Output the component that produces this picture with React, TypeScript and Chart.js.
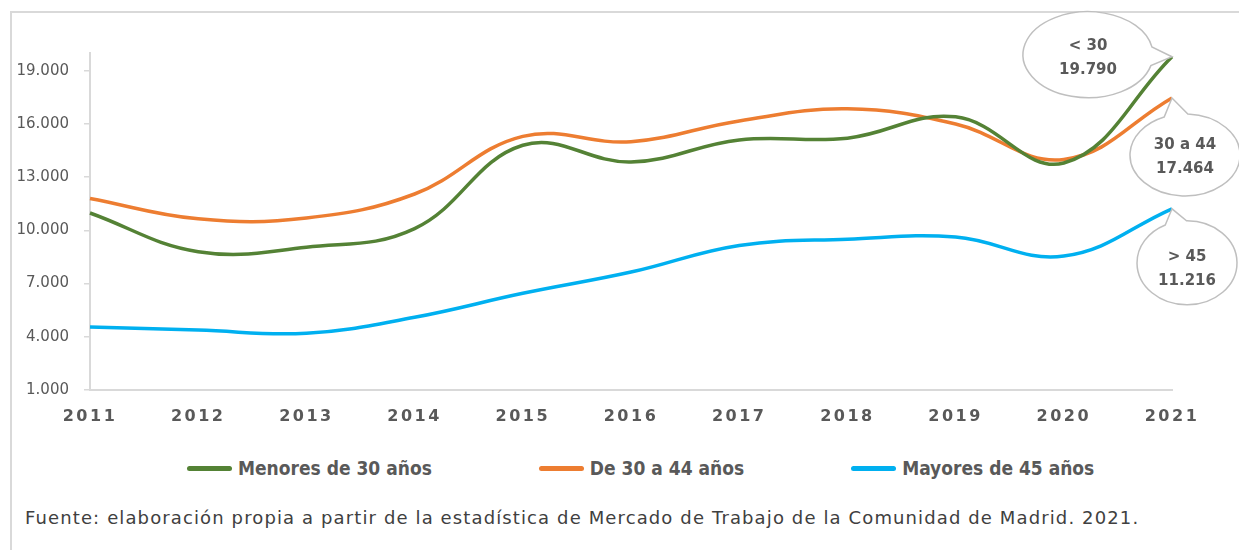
import { useEffect, useRef } from "react";
import { Chart, registerables } from "chart.js";

Chart.register(...registerables);

const years = ["2011", "2012", "2013", "2014", "2015", "2016", "2017", "2018", "2019", "2020", "2021"];
const menores30 = [10980, 8800, 9050, 10100, 14800, 13860, 15100, 15200, 16400, 13800, 19790];
const de30a44 = [11800, 10650, 10700, 12050, 15300, 15000, 16170, 16850, 16000, 14000, 17464];
const mayores45 = [4550, 4380, 4200, 5100, 6450, 7650, 9150, 9500, 9620, 8550, 11216];
const seriesNames = ["Menores de 30 años", "De 30 a 44 años", "Mayores de 45 años"];
const seriesColors = ["#548235", "#ED7D31", "#00B0F0"];
const calloutLabels = ["< 30", "30 a 44", "> 45"];
const yTickValues = [1000, 4000, 7000, 10000, 13000, 16000, 19000];
const yMin = 1000;
const yMax = 20000;
const sourceNote =
  "Fuente: elaboración propia a partir de la estadística de Mercado de Trabajo de la Comunidad de Madrid. 2021.";

const bubbleShapes = [
  { dx: -84, dy: -2, rx: 65, ry: 43, textDy: 3 },
  { dx: 13, dy: 57, rx: 55, ry: 41, textDy: 2 },
  { dx: 15, dy: 54, rx: 50, ry: 42, textDy: 6 },
];

const fmt = (v: number) => String(Math.round(v)).replace(/\B(?=(\d{3})+(?!\d))/g, ".");

const calloutPlugin = {
  id: "callouts",
  afterDatasetsDraw(chart: any) {
    const ctx = chart.ctx as CanvasRenderingContext2D;
    chart.data.datasets.forEach((ds: any, i: number) => {
      const meta = chart.getDatasetMeta(i);
      const pt = meta.data[meta.data.length - 1];
      const px = pt.x;
      const py = pt.y;
      const b = bubbleShapes[i];
      const cx = px + b.dx;
      const cy = py + b.dy;
      const ang = Math.atan2((py - cy) / b.ry, (px - cx) / b.rx);
      const d = 0.22;
      ctx.save();
      ctx.beginPath();
      ctx.ellipse(cx, cy, b.rx, b.ry, 0, ang + d, ang - d + Math.PI * 2);
      ctx.lineTo(px, py);
      ctx.closePath();
      ctx.fillStyle = "#ffffff";
      ctx.fill();
      ctx.strokeStyle = "#bfbfbf";
      ctx.lineWidth = 1.5;
      ctx.stroke();
      ctx.fillStyle = "#595959";
      ctx.font = 'bold 15px "DejaVu Sans", sans-serif';
      ctx.textAlign = "center";
      ctx.textBaseline = "middle";
      ctx.fillText(calloutLabels[i], cx, cy + b.textDy - 12);
      ctx.fillText(fmt(ds.data[ds.data.length - 1]), cx, cy + b.textDy + 12);
      ctx.restore();
    });
  },
};

const spacingPlugin = {
  id: "xLetterSpacing",
  beforeDraw(chart: any) {
    const xs = chart.scales.x;
    if (xs && !xs.__spaced) {
      const orig = xs.drawLabels.bind(xs);
      xs.drawLabels = (area: any) => {
        const c = chart.ctx;
        c.save();
        c.letterSpacing = "2.5px";
        orig(area);
        c.restore();
      };
      xs.__spaced = true;
    }
  },
};

export default function App() {
  const ref = useRef<HTMLCanvasElement>(null);

  useEffect(() => {
    const seriesData = [menores30, de30a44, mayores45];
    const chart = new Chart(ref.current as HTMLCanvasElement, {
      type: "line",
      data: {
        labels: years,
        datasets: seriesData.map((d, i) => ({
          label: seriesNames[i],
          data: d,
          borderColor: seriesColors[i],
          backgroundColor: seriesColors[i],
          borderWidth: 3.5,
          pointRadius: 0,
          tension: 0.4,
          fill: false,
          clip: false as any,
        })),
      },
      options: {
        responsive: false,
        animation: false,
        layout: { padding: { top: 53, right: 67, left: 0, bottom: 0 } },
        plugins: {
          legend: { display: false },
          tooltip: { enabled: false },
        },
        scales: {
          x: {
            afterFit: (s: any) => {
              s.height = 40;
            },
            grid: { display: false, drawTicks: false, drawOnChartArea: false },
            border: { display: true, color: "#d9d9d9", width: 2 },
            ticks: {
              color: "#595959",
              font: { family: '"DejaVu Sans", sans-serif', size: 16, weight: "bold" },
              padding: 17,
              maxRotation: 0,
              autoSkip: false,
            },
          },
          y: {
            min: yMin,
            max: yMax,
            afterFit: (s: any) => {
              s.width = 90;
            },
            afterBuildTicks: (s: any) => {
              s.ticks = yTickValues.map((v) => ({ value: v }));
            },
            grid: {
              display: true,
              drawOnChartArea: false,
              drawTicks: true,
              tickLength: 6,
              color: "#d9d9d9",
              lineWidth: 1.5,
            },
            border: { display: true, color: "#d9d9d9", width: 2 },
            ticks: {
              color: "#595959",
              font: { family: '"DejaVu Sans", sans-serif', size: 15 },
              padding: 15,
              callback: (v: any) => fmt(Number(v)),
            },
          },
        },
      },
      plugins: [calloutPlugin, spacingPlugin],
    });
    return () => chart.destroy();
  }, []);

  return (
    <div
      style={{
        position: "absolute",
        left: 0,
        top: 0,
        width: 1239,
        height: 550,
        overflow: "hidden",
        background: "#ffffff",
      }}
    >
      <div
        style={{
          position: "absolute",
          left: 10,
          top: 11,
          width: 1300,
          height: 600,
          borderLeft: "2px solid #d9d9d9",
          borderTop: "2px solid #d9d9d9",
        }}
      />
      <canvas
        ref={ref}
        width={1239}
        height={430}
        style={{ position: "absolute", left: 0, top: 0, width: 1239, height: 430, display: "block" }}
      />
      <div
        style={{
          position: "absolute",
          left: 187,
          top: 457,
          display: "flex",
          alignItems: "center",
          gap: 107,
          fontFamily: '"Liberation Sans Narrow", "DejaVu Sans Condensed", sans-serif',
          fontWeight: "bold",
          fontSize: 19,
          color: "#595959",
          whiteSpace: "nowrap",
        }}
      >
        {seriesNames.map((n, i) => (
          <div key={n} style={{ display: "flex", alignItems: "center" }}>
            <span
              style={{
                display: "inline-block",
                width: 45,
                height: 5,
                borderRadius: 3,
                background: seriesColors[i],
                marginRight: 6,
              }}
            />
            <span>{n}</span>
          </div>
        ))}
      </div>
      <div
        style={{
          position: "absolute",
          left: 25,
          top: 507,
          fontFamily: '"DejaVu Sans", sans-serif',
          fontSize: 18,
          letterSpacing: "1.12px",
          color: "#404040",
          whiteSpace: "nowrap",
        }}
      >
        {sourceNote}
      </div>
    </div>
  );
}
